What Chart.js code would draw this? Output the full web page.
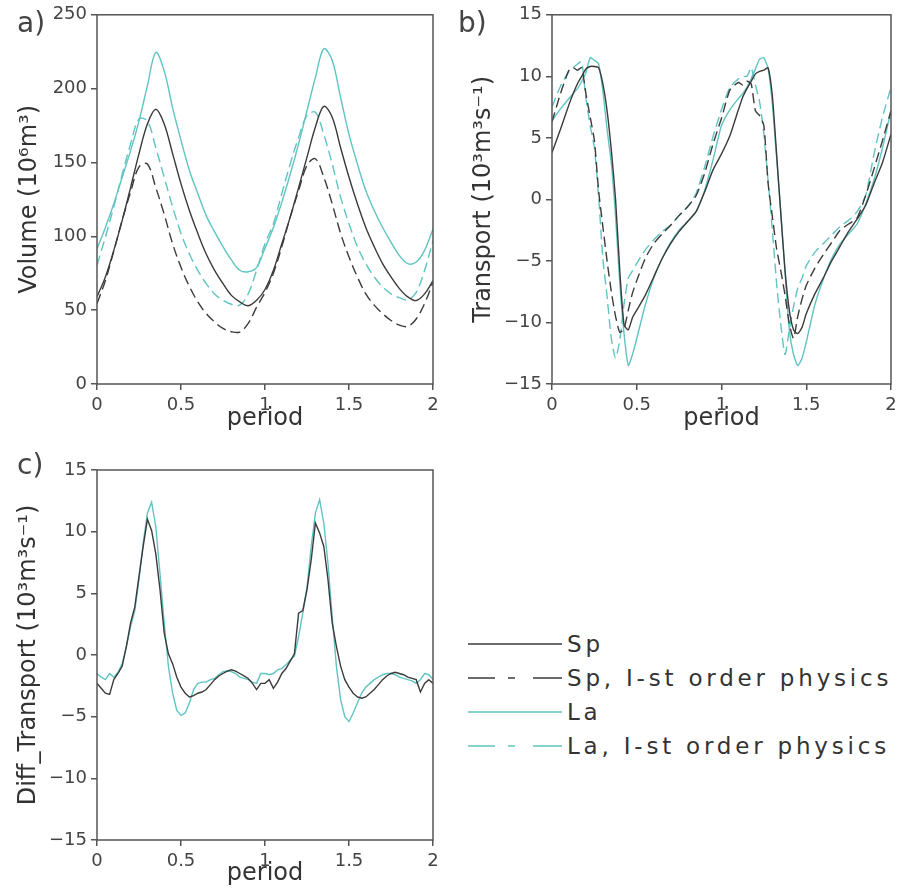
<!DOCTYPE html>
<html>
<head>
<meta charset="utf-8">
<title>Volume and transport over two periods</title>
<script src="https://cdn.jsdelivr.net/npm/chart.js@4.4.1/dist/chart.umd.min.js"></script>
<style>
  body { margin: 0; background: #fff; }
  #page { position: relative; width: 912px; height: 888px; font-family: "DejaVu Sans", sans-serif; color: #333; }
  #page canvas { position: absolute; }
  .tag { position: absolute; font-size: 28px; line-height: 28px; color: #444; }
  #legend { position: absolute; left: 468px; top: 627px; }
  .row { height: 34px; display: flex; align-items: center; white-space: nowrap; font-size: 23px; letter-spacing: 3.8px; color: #333; }
</style>
</head>
<body>
<div id="page">
  <canvas id="panelA" width="450" height="440" style="left:0;top:0"></canvas>
  <canvas id="panelB" width="462" height="440" style="left:450px;top:0"></canvas>
  <canvas id="panelC" width="450" height="448" style="left:0;top:440px"></canvas>
  <div class="tag" style="left:17px;top:9px">a)</div>
  <div class="tag" style="left:458px;top:9px">b)</div>
  <div class="tag" style="left:17px;top:451px">c)</div>
  <div id="legend"></div>
</div>
<script>
// panel a: volume
const PERIOD_A = [0, 0.05, 0.1, 0.15, 0.2, 0.25, 0.3, 0.35, 0.4, 0.45, 0.5, 0.55, 0.6, 0.65, 0.7, 0.75, 0.8, 0.85, 0.9, 0.95,
  1, 1.05, 1.1, 1.15, 1.2, 1.25, 1.3, 1.35, 1.4, 1.45, 1.5, 1.55, 1.6, 1.65, 1.7, 1.75, 1.8, 1.85, 1.9, 1.95, 2];
const volSp = [59, 72.5, 90.5, 110.8, 133, 156, 176, 186, 176, 156, 135.5, 117.5, 102, 88, 77, 68, 60, 55.6, 53, 56.7,
  64, 77, 95, 113, 133, 153.6, 174, 188, 180.6, 160, 140, 122, 106, 93, 81.5, 72.5, 64.6, 59, 56.5, 61, 70];
const volSpFirst = [54.5, 70, 90, 111, 130, 147, 149, 133, 115, 95, 79, 66, 55.6, 47.7, 42, 37.6, 35.4, 35.2, 41, 52,
  62, 75, 93, 113, 131, 148, 152.5, 140, 122, 102, 86, 72.5, 61, 53.4, 47.7, 43, 39.9, 39, 44, 54.5, 69];
const volLa = [91.5, 106, 122, 140, 158, 178, 202, 224.5, 212, 187, 165, 144.6, 129, 114, 103, 93, 84, 77, 76, 79,
  92, 106, 123, 142, 162.6, 185, 207.6, 227, 219, 194, 169, 149, 131, 117.5, 106, 96, 87, 81.5, 82.6, 90.5, 105];
const volLaFirst = [80.4, 99.5, 120, 142, 162.6, 179.5, 178, 160, 140, 120, 102, 88, 77, 68, 61, 56.7, 54, 53.4, 61, 77,
  95, 108.5, 129, 149, 167, 181.7, 184, 169, 149, 126.5, 108.5, 93, 81.5, 72.5, 65.8, 61, 58.5, 57, 62, 77, 97];

// panel b: transport
const PERIOD_B = [0, 0.05, 0.1, 0.125, 0.15, 0.175, 0.2, 0.225, 0.25, 0.275, 0.3, 0.325, 0.35, 0.375, 0.4, 0.425, 0.45, 0.475, 0.5,
  0.55, 0.6, 0.65, 0.7, 0.75, 0.8, 0.85, 0.9, 0.95, 1, 1.05, 1.1,
  1.125, 1.15, 1.175, 1.2, 1.225, 1.25, 1.275, 1.3, 1.325, 1.35, 1.375, 1.4, 1.425, 1.45, 1.475, 1.5,
  1.55, 1.6, 1.65, 1.7, 1.75, 1.8, 1.85, 1.9, 1.95, 2];
const trSp = [3.8, 5.7, 7.7, 8.6, 9.4, 10.0, 10.6, 10.8, 10.8, 10.7, 9.4, 7.2, 4.0, 0.0, -5.8, -10.2, -10.6, -9.6, -9.0,
  -7.8, -6.3, -4.8, -3.6, -2.6, -1.8, -1.0, 0.6, 2.4, 3.7, 5.2, 7.3,
  8.3, 9.0, 9.6, 10.2, 10.4, 10.5, 10.7, 8.4, 3.7, -1.2, -5.8, -9.0, -10.6, -10.9, -10.4, -9.3,
  -7.7, -6.4, -5.0, -3.8, -2.6, -1.6, -0.5, 1.3, 3.0, 5.3];
const trSpFirst = [6.3, 8.6, 10.5, 10.7, 10.5, 10.7, 8.6, 6.7, 4.8, 0.7, -2.2, -5.0, -7.5, -9.5, -10.8, -10.5, -9.0, -7.6, -6.6,
  -4.8, -3.6, -2.8, -2.1, -1.3, -0.6, 0.3, 2.1, 4.5, 6.6, 8.9, 9.5,
  9.3, 9.6, 9.4, 7.2, 6.8, 6.0, 1.3, -1.4, -4.0, -5.8, -7.8, -10.1, -11.3, -9.5, -8.1, -7.0,
  -5.6, -4.5, -3.5, -2.5, -2.0, -1.5, 0.3, 2.5, 4.8, 7.2];
const trLa = [6.4, 7.35, 8.2, 8.6, 9.0, 9.6, 10.3, 11.5, 11.3, 11.0, 8.8, 5.7, 2.9, -1.4, -6.8, -10.9, -13.5, -12.6, -11.3,
  -8.6, -6.4, -4.8, -3.5, -2.5, -1.8, -1.0, 0.7, 3.2, 6.0, 7.3, 8.2,
  8.6, 9.1, 9.8, 10.6, 11.4, 11.5, 10.6, 7.8, 3.4, -1.0, -6.0, -10.6, -12.6, -13.5, -12.9, -11.6,
  -8.6, -6.5, -4.8, -3.6, -2.8, -2.0, -0.4, 1.6, 4.2, 7.2];
const trLaFirst = [7.5, 9.2, 10.4, 10.7, 11.0, 11.2, 8.2, 6.0, 4.2, 0.2, -4.8, -7.9, -11.3, -12.9, -11.4, -8.5, -6.4, -5.8, -5.2,
  -4.1, -3.3, -2.6, -2.1, -1.3, -0.6, 0.5, 2.6, 5.1, 7.3, 9.1, 9.8,
  10.0, 10.0, 10.7, 9.3, 7.9, 5.3, 1.5, -2.5, -6.8, -10.2, -12.6, -10.6, -8.7, -7.2, -6.4, -5.4,
  -4.3, -3.6, -2.9, -2.2, -1.7, -1.0, 0.3, 3.7, 6.7, 9.1];

// panel c: diffusive transport
const PERIOD_C = [0, 0.025, 0.05, 0.075, 0.1, 0.125, 0.15, 0.175, 0.2, 0.225, 0.25, 0.275, 0.3, 0.325, 0.35, 0.375,
  0.4, 0.425, 0.45, 0.475, 0.5, 0.525, 0.55, 0.575, 0.6, 0.625, 0.65, 0.675, 0.7, 0.725, 0.75, 0.775,
  0.8, 0.825, 0.85, 0.875, 0.9, 0.925, 0.95, 0.975, 1, 1.025, 1.05, 1.075, 1.1, 1.125, 1.15, 1.175,
  1.2, 1.225, 1.25, 1.275, 1.3, 1.325, 1.35, 1.375, 1.4, 1.425, 1.45, 1.475, 1.5, 1.525, 1.55, 1.575,
  1.6, 1.625, 1.65, 1.675, 1.7, 1.725, 1.75, 1.775, 1.8, 1.825, 1.85, 1.875, 1.9, 1.925, 1.95, 1.975, 2];
const diffSp = [-2.3, -2.7, -3.1, -3.2, -2.0, -1.5, -0.9, 0.7, 2.6, 3.9, 6.4, 8.8, 11.0, 10.1, 8.2, 5.3,
  1.8, 0.1, -0.7, -1.8, -2.6, -3.1, -3.4, -3.3, -3.1, -3.0, -2.8, -2.4, -2.0, -1.7, -1.5, -1.3,
  -1.2, -1.3, -1.5, -1.7, -1.9, -2.3, -2.8, -2.3, -2.3, -2.0, -2.7, -2.2, -1.5, -1.1, -0.5, 0.1,
  3.4, 3.6, 5.3, 7.7, 10.7, 9.9, 8.8, 6.1, 2.6, 0.7, -0.9, -2.0, -2.6, -3.1, -3.4, -3.5,
  -3.4, -3.1, -2.8, -2.4, -2.0, -1.7, -1.5, -1.4, -1.5, -1.6, -1.8, -1.9, -2.0, -3.0, -2.3, -2.0, -2.3];
const diffLa = [-1.5, -1.8, -2.0, -1.5, -1.8, -1.4, -0.7, 0.7, 2.3, 3.6, 6.1, 9.1, 11.5, 12.4, 10.4, 6.6,
  2.6, -0.9, -3.1, -4.5, -4.9, -4.7, -3.9, -2.8, -2.3, -2.2, -2.2, -2.0, -1.9, -1.6, -1.35, -1.3,
  -1.35, -1.5, -1.8, -1.9, -2.0, -2.2, -2.3, -1.5, -1.5, -1.6, -1.5, -1.2, -1.1, -0.8, -0.4, -0.1,
  1.5, 3.4, 5.5, 8.8, 11.5, 12.6, 10.7, 7.4, 3.1, -0.9, -3.6, -5.0, -5.4, -4.7, -3.9, -3.1,
  -2.6, -2.3, -2.0, -1.8, -1.6, -1.5, -1.5, -1.6, -1.8, -1.9, -2.0, -2.1, -2.3, -2.0, -1.5, -1.6, -2.0];

const SERIES_NAMES = ["Sp", "Sp, I-st order physics", "La", "La, I-st order physics"];

const INK = "#3b3b3b";
const CYAN = "#5fc4c2";
const FRAME = "#555555";

Chart.defaults.font.family = "'DejaVu Sans', sans-serif";
Chart.defaults.color = "#444";

// box around the plotting area (top and right sides included)
const framePlugin = {
  id: "frame",
  afterDatasetsDraw(chart) {
    const a = chart.chartArea;
    const ctx = chart.ctx;
    ctx.save();
    ctx.strokeStyle = FRAME;
    ctx.lineWidth = 1.5;
    ctx.strokeRect(a.left, a.top, a.right - a.left, a.bottom - a.top);
    ctx.restore();
  }
};

function series(period, values, color, dashed) {
  return {
    data: period.map((p, i) => ({ x: p, y: values[i] })),
    borderColor: color,
    borderWidth: 1.4,
    borderDash: dashed ? [10, 5] : [],
    pointRadius: 0,
    fill: false
  };
}

function minusSign(v) {
  return String(v).replace("-", "\u2212");
}

function drawPanel(id, datasets, o) {
  return new Chart(document.getElementById(id), {
    type: "line",
    data: { datasets: datasets },
    options: {
      responsive: false,
      animation: false,
      events: [],
      layout: { padding: o.pad },
      plugins: { legend: { display: false }, tooltip: { enabled: false } },
      elements: { line: { tension: o.tension } },
      scales: {
        x: {
          type: "linear", min: 0, max: 2,
          afterFit: function (s) { s.height = o.xHeight; },
          ticks: { stepSize: 0.5, padding: 5, maxRotation: 0, font: { size: 18 }, callback: v => String(v) },
          grid: { drawOnChartArea: false, tickLength: 6, color: FRAME, lineWidth: 1.5 },
          border: { display: false },
          title: { display: true, text: "period", font: { size: 24 }, color: "#333", padding: { top: 0, bottom: o.xTitlePad } }
        },
        y: {
          type: "linear", min: o.yMin, max: o.yMax,
          afterFit: function (s) { s.width = o.yWidth; },
          ticks: { stepSize: o.yStep, padding: 4, font: { size: 18 }, callback: v => minusSign(v) },
          grid: { drawOnChartArea: false, tickLength: 6, color: FRAME, lineWidth: 1.5 },
          border: { display: false },
          title: { display: true, text: o.yTitle, font: { size: 24 }, color: "#333", padding: { top: o.yTitlePad, bottom: 0 } }
        }
      }
    },
    plugins: [framePlugin]
  });
}

drawPanel("panelA", [
  series(PERIOD_A, volSp, INK, false),
  series(PERIOD_A, volSpFirst, INK, true),
  series(PERIOD_A, volLa, CYAN, false),
  series(PERIOD_A, volLaFirst, CYAN, true)
], {
  pad: { left: 0, top: 14, right: 17, bottom: 0 },
  tension: 0.35, yMin: 0, yMax: 250, yStep: 50,
  yTitle: "Volume (10\u2076m\u00b3)", yWidth: 97, yTitlePad: 15, xHeight: 56, xTitlePad: 7
});

drawPanel("panelB", [
  series(PERIOD_B, trSp, INK, false),
  series(PERIOD_B, trSpFirst, INK, true),
  series(PERIOD_B, trLa, CYAN, false),
  series(PERIOD_B, trLaFirst, CYAN, true)
], {
  pad: { left: 0, top: 14, right: 21, bottom: 0 },
  tension: 0.2, yMin: -15, yMax: 15, yStep: 5,
  yTitle: "Transport (10\u00b3m\u00b3s\u207b\u00b9)", yWidth: 102, yTitlePad: 19, xHeight: 56, xTitlePad: 7
});

drawPanel("panelC", [
  series(PERIOD_C, diffSp, INK, false),
  series(PERIOD_C, diffLa, CYAN, false)
], {
  pad: { left: 0, top: 30, right: 17, bottom: 0 },
  tension: 0, yMin: -15, yMax: 15, yStep: 5,
  yTitle: "Diff_Transport (10\u00b3m\u00b3s\u207b\u00b9)", yWidth: 97, yTitlePad: 14, xHeight: 48, xTitlePad: 0
});

// shared legend: line samples drawn as small svg strokes
const legendStyles = [
  { color: INK, dash: "" },
  { color: INK, dash: "27 13 7 18 29" },
  { color: CYAN, dash: "" },
  { color: CYAN, dash: "27 13 7 18 29" }
];
const legend = document.getElementById("legend");
SERIES_NAMES.forEach(function (name, i) {
  const st = legendStyles[i];
  const row = document.createElement("div");
  row.className = "row";
  row.innerHTML = '<svg width="99" height="4"><line x1="0" y1="2" x2="94" y2="2" stroke="' + st.color +
    '" stroke-width="1.6"' + (st.dash ? ' stroke-dasharray="' + st.dash + '"' : "") + '/></svg>';
  row.appendChild(document.createTextNode(name));
  legend.appendChild(row);
});
</script>
</body>
</html>
